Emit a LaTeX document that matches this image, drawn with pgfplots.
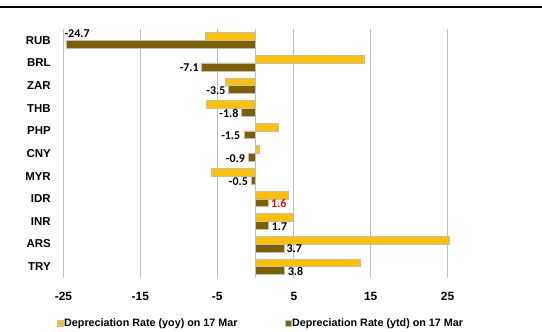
\documentclass[border=0pt]{standalone}
\usepackage{fontspec}
\setmainfont{Liberation Sans}
\newfontfamily\labfont{Carlito}
\usepackage{pgfplots}
\usepackage{pgfplotstable}
\pgfplotsset{compat=1.18}
\definecolor{yoycol}{HTML}{FFC000}
\definecolor{ytdcol}{HTML}{7F6000}
\definecolor{gridcol}{HTML}{BFBFBF}
\pgfplotstableread{
idx cat yoy ytd lab anc dx dy
0 RUB -6.5 -24.7 -24.7 1 -2 7
1 BRL 14.1 -7.1 -7.1 -1 -1.5 -5
2 ZAR -4.0 -3.5 -3.5 -1 -2.5 -5
3 THB -6.4 -1.8 -1.8 -1 -2.5 -5
4 PHP 2.9 -1.5 -1.5 -1 -3 -5
5 CNY 0.5 -0.9 -0.9 -1 -3 -5
6 MYR -5.7 -0.5 -0.5 -1 -3 -5
7 IDR 4.2 1.6 {\textcolor{red}{1.6}} 1 2.5 -5
8 INR 4.9 1.7 1.7 1 2.5 -5
9 ARS 25.2 3.7 3.7 1 2 -5
10 TRY 13.7 3.8 3.8 1 2.5 -5
}\data
\begin{document}
\begin{tikzpicture}
\useasboundingbox (0,0) rectangle (542bp,332bp);
\draw[line width=2bp] (0,325bp) -- (542bp,325bp);
\begin{axis}[
  at={(63.5bp,54bp)}, anchor=south west,
  scale only axis, width=422.4bp, height=249bp,
  xmin=-25, xmax=30, ymin=-0.5, ymax=10.5, y dir=reverse,
  xbar=0pt, bar width=7.8bp,
  xtick={-25,-15,-5,5,15,25},
  ytick={0,...,10}, yticklabels from table={\data}{cat},
  xmajorgrids, major grid style={gridcol, line width=1bp},
  extra x ticks={0}, extra x tick labels={},
  extra x tick style={grid=major, major grid style={gridcol, line width=1bp}},
  axis line style={draw=none}, tick style={draw=none},
  /pgf/number format/assume math mode=true,
  xticklabel style={font=\bfseries\fontsize{12}{14}\selectfont, yshift=-11bp},
  yticklabel style={font=\bfseries\fontsize{11.5}{13}\selectfont, xshift=-5bp},
  legend style={at={(-0.0154,-0.181)}, anchor=west, draw=none, fill=none, inner sep=0pt,
    font=\bfseries\fontsize{10.8}{12}\selectfont, nodes={inner sep=0.5bp},
    /tikz/every even column/.append style={column sep=47bp}},
  legend columns=2,
  legend image code/.code={\fill[#1] (0bp,-3bp) rectangle (6bp,3bp);},
  clip=false,
]
\addplot[fill=yoycol, draw=gridcol, line width=0.5bp, bar shift=3.9bp] table[x=yoy, y=idx] {\data};
\addlegendentry{Depreciation Rate (yoy) on 17 Mar}
\addplot[fill=ytdcol, draw=gridcol, line width=0.5bp, bar shift=-3.9bp,
  nodes near coords, point meta=explicit symbolic,
  visualization depends on={\thisrow{anc} \as \anc},
  visualization depends on={\thisrow{dx} \as \dx},
  visualization depends on={\thisrow{dy} \as \dy},
  every node near coord/.style={
    /utils/exec={\ifdim\anc pt<0pt\gdef\myanc{east}\else\gdef\myanc{west}\fi},
    anchor=\myanc, xshift=\dx bp, yshift=\dy bp,
    text=black, inner sep=0.5bp, font=\labfont\bfseries\fontsize{12}{13}\selectfont},
] table[x=ytd, y=idx, meta=lab] {\data};
\addlegendentry{Depreciation Rate (ytd) on 17 Mar}
\end{axis}
\end{tikzpicture}
\end{document}
